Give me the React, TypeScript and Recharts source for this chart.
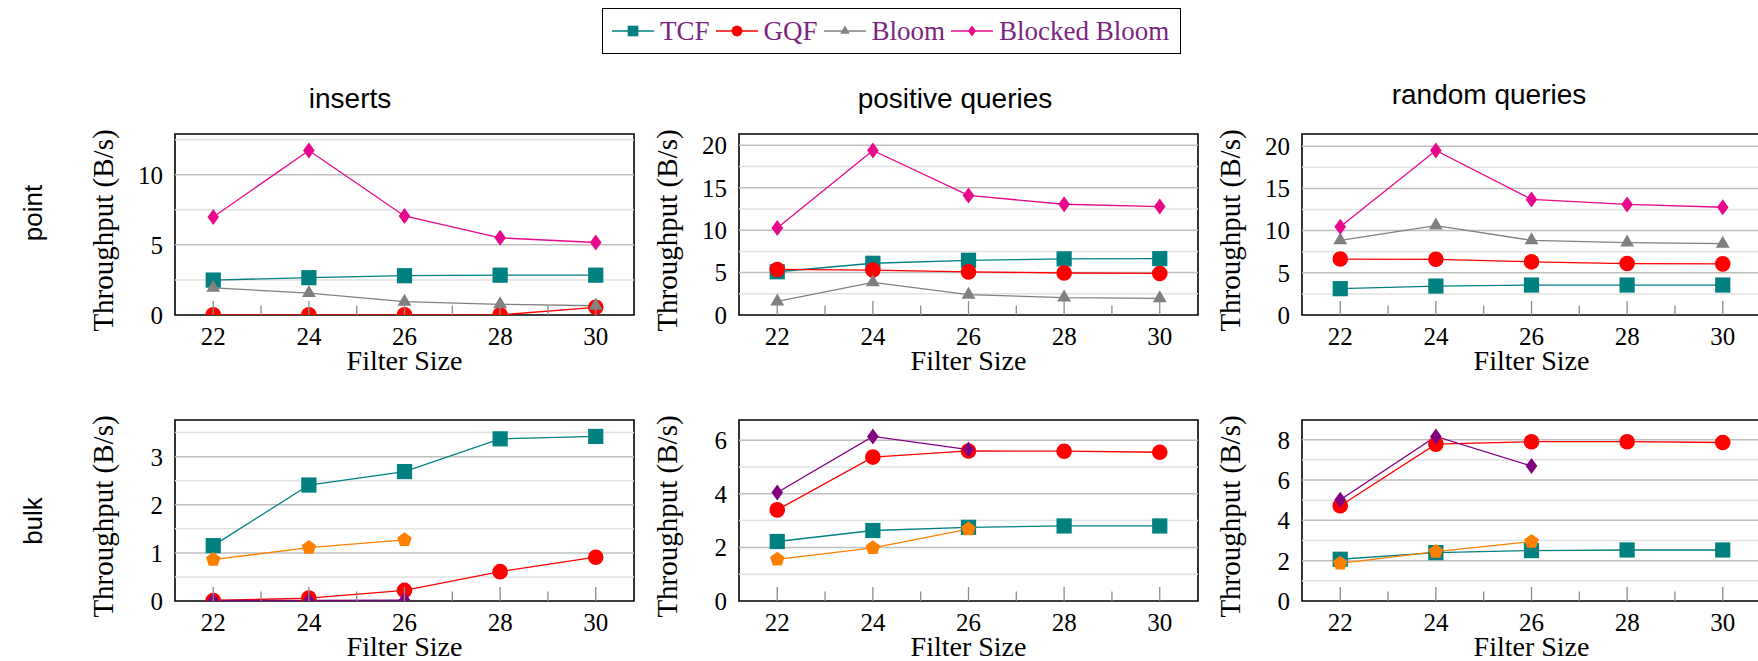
import React from "react";
import {
  Line,
  LineChart,
  ReferenceArea,
  ReferenceLine,
  XAxis,
  YAxis,
} from "recharts";

// x categories (filter size, log2) and tick positions
const filterSizes = [22, 24, 26, 28, 30];
const xTickValues = [22, 23, 24, 25, 26, 27, 28, 29, 30];

// point / inserts
const ptInsTCF = [2.49, 2.66, 2.8, 2.84, 2.84];
const ptInsGQF = [0.01, 0.01, 0.01, 0.01, 0.55];
const ptInsBloom = [1.94, 1.56, 0.95, 0.76, 0.66];
const ptInsBlocked = [6.99, 11.73, 7.06, 5.5, 5.17];

// point / positive queries
const ptPosTCF = [5.1, 6.1, 6.45, 6.62, 6.65];
const ptPosGQF = [5.37, 5.3, 5.08, 4.95, 4.9];
const ptPosBloom = [1.6, 3.85, 2.4, 2.05, 1.97];
const ptPosBlocked = [10.27, 19.4, 14.1, 13.06, 12.78];

// point / random queries
const ptRndTCF = [3.12, 3.43, 3.55, 3.55, 3.55];
const ptRndGQF = [6.63, 6.6, 6.3, 6.1, 6.06];
const ptRndBloom = [8.85, 10.6, 8.85, 8.58, 8.45];
const ptRndBlocked = [10.45, 19.5, 13.7, 13.1, 12.77];

// bulk / inserts
const bkInsTCF = [1.15, 2.41, 2.69, 3.37, 3.42];
const bkInsGQF = [0.01, 0.06, 0.22, 0.61, 0.91];
const bkInsBloom = [0.86, 1.11, 1.27, null, null];
const bkInsBlocked = [0.01, 0.01, 0.02, null, null];

// bulk / positive queries
const bkPosTCF = [2.22, 2.63, 2.75, 2.8, 2.8];
const bkPosGQF = [3.4, 5.37, 5.6, 5.59, 5.55];
const bkPosBloom = [1.55, 1.98, 2.68, null, null];
const bkPosBlocked = [4.05, 6.14, 5.65, null, null];

// bulk / random queries
const bkRndTCF = [2.07, 2.4, 2.5, 2.53, 2.53];
const bkRndGQF = [4.72, 7.78, 7.9, 7.9, 7.86];
const bkRndBloom = [1.87, 2.45, 2.95, null, null];
const bkRndBlocked = [5.02, 8.16, 6.69, null, null];

// y tick labels (major) and minor grid values per panel
const yTicksIns = [0, 5, 10];
const yMinorIns = [2.5, 7.5, 12.5];
const yTicksQuery = [0, 5, 10, 15, 20];
const yMinorQuery = [2.5, 7.5, 12.5, 17.5];
const yTicksBkIns = [0, 1, 2, 3];
const yMinorBkIns = [0.5, 1.5, 2.5, 3.5];
const yTicksBkPos = [0, 2, 4, 6];
const yMinorBkPos = [1, 3, 5];
const yTicksBkRnd = [0, 2, 4, 6, 8];
const yMinorBkRnd = [1, 3, 5, 7];

const SERIF = "'Liberation Serif', 'Times New Roman', serif";
const SANS = "'Liberation Sans', Arial, sans-serif";

type MarkerKind = "square" | "circle" | "triangle" | "diamond" | "pentagon";
type SeriesKey = "tcf" | "gqf" | "bloom" | "blocked" | "bulkBloom" | "bulkBlocked";

const STYLE: Record<SeriesKey, { color: string; marker: MarkerKind }> = {
  tcf: { color: "#008080", marker: "square" },
  gqf: { color: "#ff0000", marker: "circle" },
  bloom: { color: "#808080", marker: "triangle" },
  blocked: { color: "#e8088c", marker: "diamond" },
  bulkBloom: { color: "#ff8000", marker: "pentagon" },
  bulkBlocked: { color: "#800080", marker: "diamond" },
};

const LEGEND: { key: SeriesKey; name: string }[] = [
  { key: "tcf", name: "TCF" },
  { key: "gqf", name: "GQF" },
  { key: "bloom", name: "Bloom" },
  { key: "blocked", name: "Blocked Bloom" },
];

function Marker({ kind, cx, cy, color, k = 1 }: { kind: MarkerKind; cx: number; cy: number; color: string; k?: number }) {
  if (kind === "square") {
    const h = 7.6 * k;
    return <rect x={cx - h} y={cy - h} width={2 * h} height={2 * h} fill={color} />;
  }
  if (kind === "circle") return <circle cx={cx} cy={cy} r={7.8 * k} fill={color} />;
  if (kind === "triangle") {
    const r = 8 * k;
    return (
      <polygon
        points={`${cx},${cy - r} ${cx + 0.866 * r},${cy + r / 2} ${cx - 0.866 * r},${cy + r / 2}`}
        fill={color}
      />
    );
  }
  if (kind === "diamond") {
    const w = 5.8 * k;
    const h = 8 * k;
    return <polygon points={`${cx},${cy - h} ${cx + w},${cy} ${cx},${cy + h} ${cx - w},${cy}`} fill={color} />;
  }
  const r = 7.6 * k;
  const pts: string[] = [];
  for (let i = 0; i < 5; i++) {
    const a = ((-90 + i * 72) * Math.PI) / 180;
    pts.push(`${cx + r * Math.cos(a)},${cy + r * Math.sin(a)}`);
  }
  return <polygon points={pts.join(" ")} fill={color} />;
}

function BottomTick(props: any) {
  const { x, y, payload } = props;
  const v = payload.value as number;
  const major = v % 2 === 0;
  return (
    <g>
      <line x1={x} x2={x} y1={y} y2={y - (major ? 14 : 9.5)} stroke="#8c8c8c" strokeWidth={1.3} />
      {major && (
        <text x={x} y={y + 30} textAnchor="middle" fontSize={25} fill="#000" fontFamily={SERIF}>
          {v}
        </text>
      )}
    </g>
  );
}

function TopTick(props: any) {
  const { x, y, payload } = props;
  const major = (payload.value as number) % 2 === 0;
  return <line x1={x} x2={x} y1={y} y2={y + (major ? 14 : 9.5)} stroke="#8c8c8c" strokeWidth={1.3} />;
}

type Series = { key: SeriesKey; values: (number | null)[] };

function Panel({
  left,
  top,
  series,
  yTicks,
  yMinor,
}: {
  left: number;
  top: number;
  series: Series[];
  yTicks: number[];
  yMinor: number[];
}) {
  const rows = filterSizes.map((size, i) => {
    const row: Record<string, number | null> = { size };
    series.forEach((s) => (row[s.key] = s.values[i]));
    return row;
  });
  const all = series.flatMap((s) => s.values.filter((v): v is number => v != null));
  const yMax = Math.max(...all) * 1.1;

  return (
    <div style={{ position: "absolute", left, top }}>
      <LineChart width={579} height={271} data={rows} margin={{ top: 20, right: 20, bottom: 10, left: 40 }}>
        {yMinor.map((v) => (
          <ReferenceLine key={"mi" + v} y={v} stroke="#e2e2e2" strokeWidth={1.5} />
        ))}
        {yTicks
          .filter((v) => v > 0)
          .map((v) => (
            <ReferenceLine key={"ma" + v} y={v} stroke="#bfbfbf" strokeWidth={1.5} />
          ))}
        <XAxis
          type="number"
          dataKey="size"
          domain={[21.2, 30.8]}
          allowDataOverflow
          ticks={xTickValues}
          interval={0}
          tickSize={0}
          tickMargin={0}
          tickLine={false}
          axisLine={false}
          height={60}
          tick={BottomTick}
          label={{ value: "Filter Size", position: "center", dy: 15, fontSize: 28, fill: "#000" }}
        />
        <XAxis
          xAxisId="top"
          orientation="top"
          type="number"
          dataKey="size"
          domain={[21.2, 30.8]}
          allowDataOverflow
          ticks={xTickValues}
          interval={0}
          tickSize={0}
          tickMargin={0}
          tickLine={false}
          axisLine={false}
          height={0}
          tick={TopTick}
        />
        <YAxis
          type="number"
          domain={[0, yMax]}
          allowDataOverflow
          ticks={yTicks}
          interval={0}
          tickSize={0}
          tickMargin={12}
          tickLine={false}
          axisLine={false}
          width={60}
          tick={{ fontSize: 25, fill: "#000" }}
          label={{ value: "Throughput (B/s)", angle: -90, position: "center", dx: -42, dy: 6, fontSize: 29, fill: "#000" }}
        />
        <ReferenceArea
          x1={21.2}
          x2={30.8}
          y1={0}
          y2={yMax}
          fill="none"
          stroke="#000"
          strokeWidth={1.6}
          ifOverflow="visible"
        />
        {series.map((s) => {
          const st = STYLE[s.key];
          return (
            <Line
              key={s.key}
              type="linear"
              dataKey={s.key}
              stroke={st.color}
              strokeWidth={1.3}
              isAnimationActive={false}
              activeDot={false}
              dot={(p: any) =>
                p.cx == null || p.cy == null ? (
                  <g key={p.index} />
                ) : (
                  <Marker key={p.index} kind={st.marker} cx={p.cx} cy={p.cy} color={st.color} />
                )
              }
            />
          );
        })}
      </LineChart>
    </div>
  );
}

function LegendBox() {
  return (
    <div
      style={{
        position: "absolute",
        left: 602,
        top: 8,
        height: 46,
        border: "1.3px solid #000",
        display: "flex",
        alignItems: "center",
        padding: "0 11px 0 9px",
        fontFamily: SERIF,
        fontSize: 27,
        color: "#7a2680",
        background: "#fff",
        boxSizing: "border-box",
      }}
    >
      {LEGEND.map((item, i) => {
        const st = STYLE[item.key];
        return (
          <div key={item.key} style={{ display: "flex", alignItems: "center", marginLeft: i === 0 ? 0 : 6 }}>
            <svg width={42} height={20}>
              <line x1={0} x2={42} y1={10} y2={10} stroke={st.color} strokeWidth={1.3} />
              <Marker kind={st.marker} cx={21} cy={10} color={st.color} k={0.7} />
            </svg>
            <span style={{ marginLeft: 6, lineHeight: "30px" }}>{item.name}</span>
          </div>
        );
      })}
    </div>
  );
}

export default function App() {
  const titleStyle = { fontFamily: SANS, fontSize: 28, fill: "#000" };
  return (
    <div
      style={{
        position: "absolute",
        left: 0,
        top: 0,
        width: 1758,
        height: 661,
        overflow: "hidden",
        background: "#fff",
        fontFamily: SERIF,
      }}
    >
      <Panel
        left={75}
        top={113.7}
        series={[
          { key: "tcf", values: ptInsTCF },
          { key: "gqf", values: ptInsGQF },
          { key: "bloom", values: ptInsBloom },
          { key: "blocked", values: ptInsBlocked },
        ]}
        yTicks={yTicksIns}
        yMinor={yMinorIns}
      />
      <Panel
        left={639}
        top={113.7}
        series={[
          { key: "tcf", values: ptPosTCF },
          { key: "gqf", values: ptPosGQF },
          { key: "bloom", values: ptPosBloom },
          { key: "blocked", values: ptPosBlocked },
        ]}
        yTicks={yTicksQuery}
        yMinor={yMinorQuery}
      />
      <Panel
        left={1202}
        top={113.7}
        series={[
          { key: "tcf", values: ptRndTCF },
          { key: "gqf", values: ptRndGQF },
          { key: "bloom", values: ptRndBloom },
          { key: "blocked", values: ptRndBlocked },
        ]}
        yTicks={yTicksQuery}
        yMinor={yMinorQuery}
      />
      <Panel
        left={75}
        top={400}
        series={[
          { key: "tcf", values: bkInsTCF },
          { key: "gqf", values: bkInsGQF },
          { key: "bulkBloom", values: bkInsBloom },
          { key: "bulkBlocked", values: bkInsBlocked },
        ]}
        yTicks={yTicksBkIns}
        yMinor={yMinorBkIns}
      />
      <Panel
        left={639}
        top={400}
        series={[
          { key: "tcf", values: bkPosTCF },
          { key: "gqf", values: bkPosGQF },
          { key: "bulkBloom", values: bkPosBloom },
          { key: "bulkBlocked", values: bkPosBlocked },
        ]}
        yTicks={yTicksBkPos}
        yMinor={yMinorBkPos}
      />
      <Panel
        left={1202}
        top={400}
        series={[
          { key: "tcf", values: bkRndTCF },
          { key: "gqf", values: bkRndGQF },
          { key: "bulkBloom", values: bkRndBloom },
          { key: "bulkBlocked", values: bkRndBlocked },
        ]}
        yTicks={yTicksBkRnd}
        yMinor={yMinorBkRnd}
      />
      <svg width={1758} height={661} style={{ position: "absolute", left: 0, top: 0, pointerEvents: "none" }}>
        <text x={350} y={108} textAnchor="middle" {...titleStyle}>
          inserts
        </text>
        <text x={955} y={108} textAnchor="middle" {...titleStyle}>
          positive queries
        </text>
        <text x={1489} y={104} textAnchor="middle" {...titleStyle}>
          random queries
        </text>
        <text
          x={33}
          y={213}
          textAnchor="middle"
          dominantBaseline="central"
          transform="rotate(-90, 33, 213)"
          {...titleStyle}
          fontSize={26}
        >
          point
        </text>
        <text
          x={33}
          y={521}
          textAnchor="middle"
          dominantBaseline="central"
          transform="rotate(-90, 33, 521)"
          {...titleStyle}
          fontSize={26}
        >
          bulk
        </text>
      </svg>
      <LegendBox />
    </div>
  );
}
